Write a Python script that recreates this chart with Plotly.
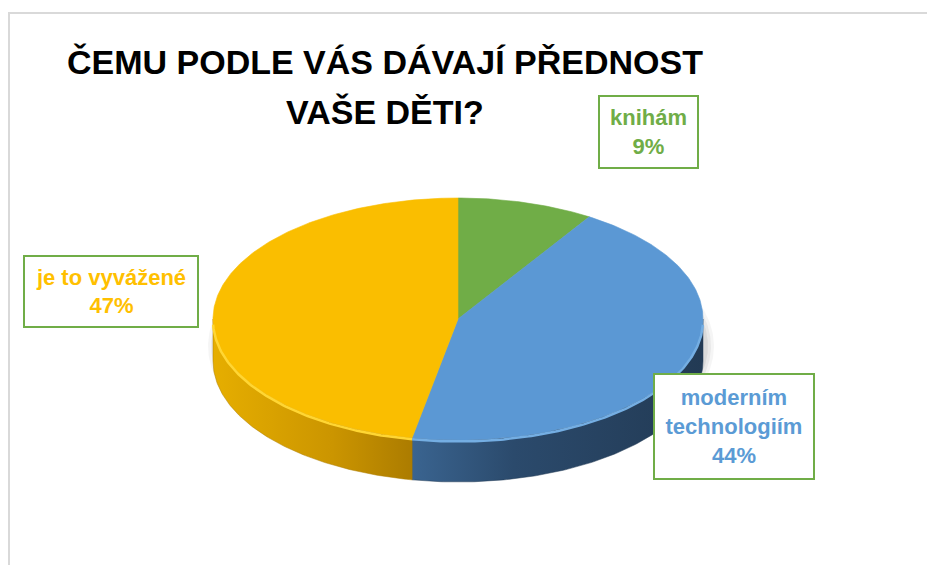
import numpy as np
import plotly.graph_objects as go

# ---------------- data ----------------
categories = ["knihám", "moderním technologiím", "je to vyvážené"]
values = [9, 44, 47]
label_names = ["knihám", "moderním<br>technologiím", "je to vyvážené"]
title_lines = ["ČEMU PODLE VÁS DÁVAJÍ PŘEDNOST", "VAŠE DĚTI?"]

# ---------------- styles ----------------
top_colors = ["#70AD47", "#5B98D4", "#FABE00"]
text_colors = ["#70AD47", "#5B9BD5", "#FFC000"]
side_scales = [
    [[0, "#4E7A32"], [1, "#3A5C25"]],
    [[0, "#3A6490"], [0.35, "#2B4A6C"], [1, "#223A54"]],
    [[0, "#E6AE00"], [0.6, "#CB9500"], [1, "#AC7C00"]],
]
rim_colors = ["#8CC866", "#74AEE3", "#FFD633"]

# pixel-mapped geometry of the tilted pie (screen pixels)
CX, CY, A, B, DEPTH = 458, 319, 245, 121, 42

# label box centres and sizes (screen pixels)
label_boxes = [
    (648.5, 132, 101, 74),
    (734, 426.5, 162, 107),
    (111, 291.5, 176, 73),
]

# page body margin offset (the figure sits 8px from the page corner)
OFF = 8

total = float(sum(values))
ends = np.cumsum(values) / total * 360.0
starts = np.concatenate([[0.0], ends[:-1]])


def arc(t0, t1, dy=0.0, n=None):
    if n is None:
        n = max(int(abs(t1 - t0) * 1.5), 4)
    t = np.radians(np.linspace(t0, t1, n))
    return CX + A * np.sin(t), CY - B * np.cos(t) + dy


fig = go.Figure()

# soft shadow under the pie
for k, alpha in enumerate([0.04, 0.05, 0.06]):
    g = 8 - 3 * k
    base = CY + DEPTH * 0.55 + 4
    xs, ys = arc(0, 360, dy=DEPTH * 0.55 + 4)
    xs = CX + 3 + (xs - CX) * (A + g) / A
    ys = base + (ys - base) * (B + g) / B
    fig.add_trace(go.Scatter(x=xs, y=ys, fill="toself", mode="lines",
                             line=dict(width=0), fillcolor=f"rgba(0,0,0,{alpha})",
                             hoverinfo="skip", showlegend=False))

# side walls (front half only)
for i in range(len(values)):
    lo, hi = max(starts[i], 90.0), min(ends[i], 270.0)
    if lo >= hi:
        continue
    xt, yt = arc(lo, hi)
    xb, yb = arc(hi, lo, dy=DEPTH)
    xs = np.concatenate([xt, xb, xt[:1]])
    ys = np.concatenate([yt, yb, yt[:1]])
    fig.add_trace(go.Scatter(
        x=xs, y=ys, fill="toself", mode="lines",
        line=dict(width=0.5, color=side_scales[i][-1][1]),
        fillgradient=dict(type="horizontal", colorscale=side_scales[i]),
        hoverinfo="skip", showlegend=False))

# top faces
for i in range(len(values)):
    xa, ya = arc(starts[i], ends[i])
    xs = np.concatenate([[CX], xa, [CX]])
    ys = np.concatenate([[CY], ya, [CY]])
    fig.add_trace(go.Scatter(
        x=xs, y=ys, fill="toself", mode="lines",
        line=dict(width=0.6, color=top_colors[i]), fillcolor=top_colors[i],
        name=categories[i],
        text=[f"{categories[i]}: {values[i]}%"] * len(xs),
        hoveron="fills", hoverinfo="text", showlegend=False))

# bevel highlight along the front rim
for i in range(len(values)):
    lo, hi = max(starts[i], 92.0), min(ends[i], 268.0)
    if lo >= hi:
        continue
    xs, ys = arc(lo, hi, dy=1.5)
    fig.add_trace(go.Scatter(x=xs, y=ys, mode="lines",
                             line=dict(width=2.5, color=rim_colors[i]),
                             hoverinfo="skip", showlegend=False))

# data labels
annotations = []
for i in range(len(values)):
    bx, by, bw, bh = label_boxes[i]
    annotations.append(dict(
        x=bx, y=by, xref="x", yref="y", xanchor="center", yanchor="middle",
        text=f"<b>{label_names[i]}<br>{values[i]}%</b>", showarrow=False,
        font=dict(family="Liberation Sans, Arial, sans-serif", size=22,
                  color=text_colors[i]),
        align="center", valign="middle",
        bgcolor="white", bordercolor="#70AD47", borderwidth=2, borderpad=0,
        width=bw - 4, height=bh - 4))

# title (two centred lines)
for line, yy in zip(title_lines, [62, 112]):
    annotations.append(dict(
        x=385, y=yy, xref="x", yref="y", xanchor="center", yanchor="middle",
        text=f"<b>{line}</b>", showarrow=False,
        font=dict(family="Liberation Sans, Arial, sans-serif", size=34,
                  color="black")))

fig.update_layout(
    width=935, height=565,
    margin=dict(l=0, r=0, t=0, b=0),
    paper_bgcolor="white", plot_bgcolor="white",
    xaxis=dict(range=[OFF, 935 + OFF], visible=False, fixedrange=True),
    yaxis=dict(range=[565 + OFF, OFF], visible=False, fixedrange=True),
    annotations=annotations,
    shapes=[dict(type="rect", xref="x", yref="y", x0=9, y0=13, x1=960, y1=600,
                 line=dict(color="#D9D9D9", width=2), layer="below")],
    showlegend=False,
)

fig.write_html("out.html")
